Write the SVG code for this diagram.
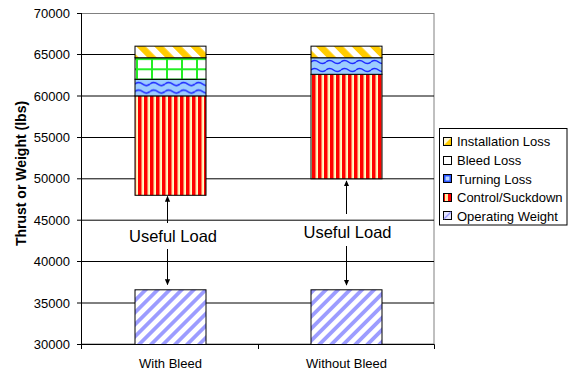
<svg xmlns="http://www.w3.org/2000/svg" width="571" height="371" viewBox="0 0 571 371">
  <style>
    text { font-family: "Liberation Sans", Arial, sans-serif; fill: #000; }
    .tick { font-size: 13px; }
    .ylab { font-size: 13px; text-anchor: end; }
    .xlab { font-size: 13px; text-anchor: middle; }
    .title { font-size: 14px; font-weight: bold; text-anchor: middle; }
    .useful { font-size: 16.5px; text-anchor: middle; }
    .leg { font-size: 13px; }
    .grid { stroke: #000; stroke-width: 1; }
    .seg { stroke: #000; stroke-width: 1; }
    .axis { stroke: #000; stroke-width: 1; fill: none; }
    .arrow { stroke: #000; stroke-width: 1; marker-end: url(#head); }
  </style>
  <defs>
    <marker id="head" viewBox="0 0 8 8" refX="7" refY="4" markerWidth="6" markerHeight="6" orient="auto" markerUnits="userSpaceOnUse">
      <path d="M0,0.5 L8,4 L0,7.5 Z" fill="#000"/>
    </marker>
    <!-- red / cream vertical stripes -->
    <pattern id="pControl" patternUnits="userSpaceOnUse" width="6" height="6">
      <rect width="6" height="6" fill="#ffffc4"/>
      <rect x="0" width="3.6" height="6" fill="#ff0000"/>
      <rect x="3.6" width="0.6" height="6" fill="#ff9060"/>
    </pattern>
    <!-- gold / white diagonal stripes -->
    <pattern id="pInstall" patternUnits="userSpaceOnUse" width="12.7" height="12.7" patternTransform="rotate(-45)">
      <rect width="12.7" height="12.7" fill="#ffffff"/>
      <rect width="6.6" height="12.7" fill="#ffcc00"/>
    </pattern>
    <!-- violet / white diagonal stripes -->
    <pattern id="pWeight" patternUnits="userSpaceOnUse" width="8.5" height="8.5" patternTransform="rotate(45)">
      <rect width="8.5" height="8.5" fill="#ffffff"/>
      <rect width="3.8" height="8.5" fill="#9c9cff"/>
    </pattern>
    <!-- blue wave -->
    <pattern id="pTurn" patternUnits="userSpaceOnUse" x="135" y="80" width="15" height="7.6">
      <rect width="15" height="7.6" fill="#9cccff"/>
      <path d="M0,4 Q3.75,1 7.5,4 T15,4" fill="none" stroke="#1f2cff" stroke-width="1.6"/>
    </pattern>
    <pattern id="pTurn2" patternUnits="userSpaceOnUse" x="311" y="58" width="15" height="8">
      <rect width="15" height="8" fill="#9cccff"/>
      <path d="M0,4 Q3.75,1 7.5,4 T15,4" fill="none" stroke="#1f2cff" stroke-width="1.6"/>
    </pattern>
    <!-- green grid -->
    <pattern id="pBleed" patternUnits="userSpaceOnUse" x="136" y="58" width="15" height="10.3">
      <rect width="15" height="10.3" fill="#ffffff"/>
      <rect x="0" y="0" width="2" height="10.3" fill="#22ee22"/>
      <rect x="0" y="0" width="15" height="2" fill="#22ee22"/>
    </pattern>
  </defs>

  <rect width="571" height="371" fill="#ffffff"/>

  <!-- plot frame and gridlines -->
  <g id="plot-area">
    <rect x="81.5" y="13.5" width="352.5" height="330.5" fill="#ffffff" stroke="#808080" stroke-width="1"/>
    <line class="grid" x1="81" y1="54.5" x2="434" y2="54.5"/>
    <line class="grid" x1="81" y1="96" x2="434" y2="96"/>
    <line class="grid" x1="81" y1="137.5" x2="434" y2="137.5"/>
    <line class="grid" x1="81" y1="178.8" x2="434" y2="178.8"/>
    <line class="grid" x1="81" y1="220.2" x2="434" y2="220.2"/>
    <line class="grid" x1="81" y1="261.5" x2="434" y2="261.5"/>
    <line class="grid" x1="81" y1="303" x2="434" y2="303"/>
  </g>

  <!-- With Bleed stack -->
  <g id="bar-with-bleed">
    <rect class="seg" x="135" y="289.8" width="71" height="54.7" fill="url(#pWeight)"/>
    <rect class="seg" x="135" y="95.9" width="71" height="99.4" fill="url(#pControl)"/>
    <rect class="seg" x="135" y="79.3" width="71" height="16.6" fill="url(#pTurn)"/>
    <rect class="seg" x="135" y="57.75" width="71" height="21.55" fill="url(#pBleed)"/>
    <rect class="seg" x="135" y="46.15" width="71" height="11.6" fill="url(#pInstall)"/>
  </g>

  <!-- Without Bleed stack -->
  <g id="bar-without-bleed">
    <rect class="seg" x="311" y="289.8" width="71" height="54.7" fill="url(#pWeight)"/>
    <rect class="seg" x="311" y="74.3" width="71" height="104.5" fill="url(#pControl)"/>
    <rect class="seg" x="311" y="57.75" width="71" height="16.55" fill="url(#pTurn2)"/>
    <rect class="seg" x="311" y="46.15" width="71" height="11.6" fill="url(#pInstall)"/>
  </g>

  <!-- axes -->
  <g id="axes">
    <line class="axis" x1="81.5" y1="13" x2="81.5" y2="344.5"/>
    <line class="axis" x1="81" y1="344.5" x2="434.5" y2="344.5"/>
    <path class="axis" d="M77,13.5H81.5 M77,54.5H81.5 M77,96H81.5 M77,137.5H81.5 M77,178.8H81.5 M77,220.2H81.5 M77,261.5H81.5 M77,303H81.5 M77,344.5H81.5"/>
    <path class="axis" d="M81.5,344.5V349 M258.5,344.5V349 M434.5,344.5V349"/>
    <text class="ylab" x="70" y="18">70000</text>
    <text class="ylab" x="70" y="59">65000</text>
    <text class="ylab" x="70" y="100.5">60000</text>
    <text class="ylab" x="70" y="142">55000</text>
    <text class="ylab" x="70" y="183.3">50000</text>
    <text class="ylab" x="70" y="224.7">45000</text>
    <text class="ylab" x="70" y="266">40000</text>
    <text class="ylab" x="70" y="307.5">35000</text>
    <text class="ylab" x="70" y="349">30000</text>
    <text class="xlab" x="170.5" y="368">With Bleed</text>
    <text class="xlab" x="346.5" y="368">Without Bleed</text>
    <text class="title" transform="translate(26,173.5) rotate(-90)">Thrust or Weight (lbs)</text>
  </g>

  <!-- useful load annotations -->
  <g id="label-useful-with">
    <text class="useful" x="173" y="242">Useful Load</text>
  </g>
  <g id="label-useful-without">
    <text class="useful" x="347.5" y="237.5">Useful Load</text>
  </g>

  <g id="connectors">
    <line class="arrow" x1="167.5" y1="223" x2="167.5" y2="196.5"/>
    <line class="arrow" x1="167.5" y1="249" x2="167.5" y2="284.5"/>
    <line class="arrow" x1="346.5" y1="214" x2="346.5" y2="181"/>
    <line class="arrow" x1="346.5" y1="246" x2="346.5" y2="285"/>
  </g>

  <!-- legend -->
  <g id="legend">
    <rect x="439.5" y="128.5" width="127.5" height="96.5" fill="#ffffff" stroke="#000" stroke-width="1"/>
    <g id="legend-installation">
      <rect x="443.5" y="137.5" width="8" height="8" fill="#fff8d8" stroke="#000"/>
      <path d="M451.5,137.5 L451.5,145.5 L443.5,145.5 Z" fill="#ffcc00"/>
      <rect x="443.5" y="137.5" width="8" height="8" fill="none" stroke="#000"/>
      <text class="leg" x="457" y="146.3">Installation Loss</text>
    </g>
    <g id="legend-bleed">
      <rect x="443.5" y="156.5" width="8" height="8" fill="#ffffff" stroke="#000"/>
      <text class="leg" x="457" y="164.9">Bleed Loss</text>
    </g>
    <g id="legend-turning">
      <rect x="443.5" y="174.5" width="8" height="8" fill="#2a55ff" stroke="#000"/>
      <rect x="445.5" y="176.5" width="4" height="4" fill="#bcd8ff"/>
      <text class="leg" x="457" y="183.5">Turning Loss</text>
    </g>
    <g id="legend-control">
      <rect x="443.5" y="193.5" width="8" height="8" fill="#ff0000" stroke="#000"/>
      <rect x="445" y="194" width="3" height="7" fill="#ffe9a0"/>
      <text class="leg" x="457" y="202.1">Control/Suckdown</text>
    </g>
    <g id="legend-weight">
      <rect x="443.5" y="211.5" width="8" height="8" fill="#e4e4ff" stroke="#000"/>
      <path d="M444,219 L451,212" stroke="#9c9cff" stroke-width="1.5"/>
      <text class="leg" x="457" y="220.7">Operating Weight</text>
    </g>
  </g>
</svg>
